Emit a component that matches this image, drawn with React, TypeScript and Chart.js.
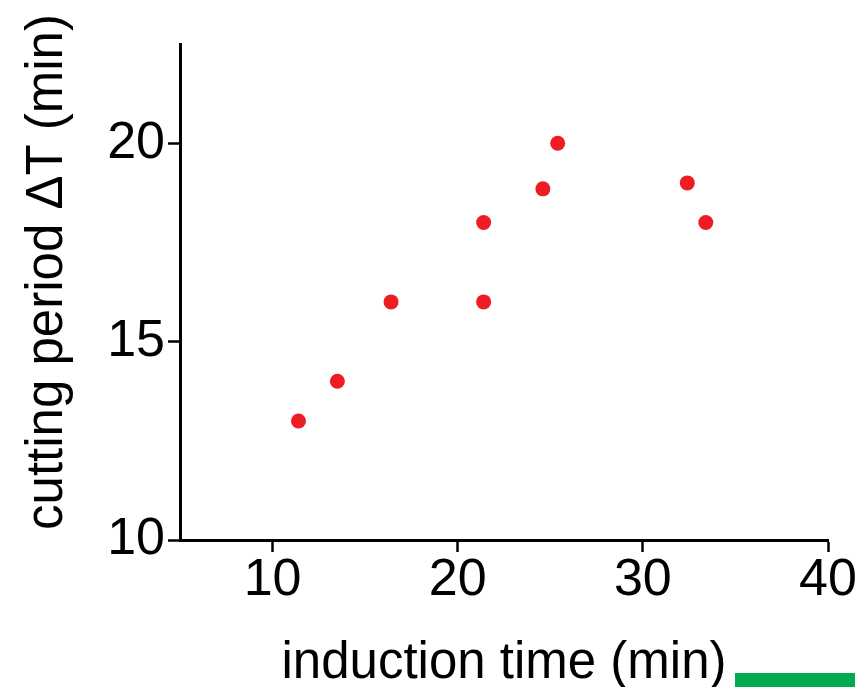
import React, { useEffect, useRef } from "react";
import { Chart, registerables } from "chart.js";

Chart.register(...registerables);

// ---- data ----
const inductionTime = [11.4, 13.5, 16.4, 21.4, 21.4, 24.6, 25.4, 32.4, 33.4];
const cuttingPeriod = [13.0, 14.0, 16.0, 16.0, 18.0, 18.85, 20.0, 19.0, 18.0];

const xMin = 5;
const xMax = 40;
const yMin = 10;
const yMax = 22.5;
const xMajorTicks = [10, 20, 30, 40];
const xMinorTicks = [5, 15, 25, 35];
const yMajorTicks = [10, 15, 20];
const yMinorTicks = [12.5, 17.5];

const xTitle = "induction time (min)";
const yTitle = "cutting period \u0394T (min)";

const FONT = '"Liberation Sans", Arial, Helvetica, sans-serif';
const RED = "#ee1d24";

const titlePlugin = {
  id: "axisTitles",
  afterDraw(chart: any) {
    const { ctx, chartArea } = chart;
    ctx.save();
    ctx.fillStyle = "#000";
    ctx.font = `51px ${FONT}`;
    ctx.textAlign = "center";
    ctx.textBaseline = "alphabetic";
    ctx.fillText(xTitle, (chartArea.left + chartArea.right) / 2, 678);
    ctx.translate(62, 272);
    ctx.rotate(-Math.PI / 2);
    ctx.fillText(yTitle, 0, 0);
    ctx.restore();
  },
};

const zeroPad = (s: any) => {
  s.paddingLeft = 0;
  s.paddingRight = 0;
  s.paddingTop = 0;
  s.paddingBottom = 0;
};

export default function App() {
  const ref = useRef<HTMLCanvasElement | null>(null);

  useEffect(() => {
    if (!ref.current) return;
    const tickFont = { family: FONT, size: 52, lineHeight: 1 };
    const chart = new Chart(ref.current, {
      type: "scatter",
      data: {
        datasets: [
          {
            data: inductionTime.map((x, i) => ({ x, y: cuttingPeriod[i] })),
            backgroundColor: RED,
            borderWidth: 0,
            pointRadius: 7.5,
            pointHoverRadius: 7.5,
            pointStyle: "circle",
          },
        ],
      },
      options: {
        responsive: false,
        animation: false,
        events: [],
        layout: { padding: { top: 44, right: 27, bottom: 0, left: 0 } },
        plugins: { legend: { display: false }, tooltip: { enabled: false }, title: { display: false } },
        scales: {
          x: {
            type: "linear",
            position: "bottom",
            min: xMin,
            max: xMax,
            afterBuildTicks: (s: any) => {
              s.ticks = xMajorTicks.map((v) => ({ value: v }));
            },
            afterFit: (s: any) => {
              s.height = 147;
              zeroPad(s);
            },
            border: { display: true, color: "#000", width: 3 },
            grid: { drawOnChartArea: false, drawTicks: true, tickLength: 12, color: "#000", tickColor: "#000", tickWidth: 2.5 },
            ticks: { color: "#000", font: tickFont, padding: 3, autoSkip: false, maxRotation: 0, minRotation: 0 },
          },
          x2: {
            type: "linear",
            position: "bottom",
            min: xMin,
            max: xMax,
            afterBuildTicks: (s: any) => {
              s.ticks = xMinorTicks.map((v) => ({ value: v }));
            },
            afterFit: (s: any) => {
              s.height = 0;
              zeroPad(s);
            },
            border: { display: false },
            grid: { drawOnChartArea: false, drawTicks: true, tickLength: 7, color: "#000", tickColor: "#000", tickWidth: 2.5 },
            ticks: { display: false },
          },
          y: {
            type: "linear",
            position: "left",
            min: yMin,
            max: yMax,
            afterBuildTicks: (s: any) => {
              s.ticks = yMajorTicks.map((v) => ({ value: v }));
            },
            afterFit: (s: any) => {
              s.width = 180;
              zeroPad(s);
            },
            border: { display: true, color: "#000", width: 3 },
            grid: { drawOnChartArea: false, drawTicks: true, tickLength: 12, color: "#000", tickColor: "#000", tickWidth: 2.5 },
            ticks: { color: "#000", font: tickFont, padding: 3, autoSkip: false },
          },
          y2: {
            type: "linear",
            position: "left",
            min: yMin,
            max: yMax,
            afterBuildTicks: (s: any) => {
              s.ticks = yMinorTicks.map((v) => ({ value: v }));
            },
            afterFit: (s: any) => {
              s.width = 0;
              zeroPad(s);
            },
            border: { display: false },
            grid: { drawOnChartArea: false, drawTicks: true, tickLength: 7, color: "#000", tickColor: "#000", tickWidth: 2.5 },
            ticks: { display: false },
          },
        },
      },
      plugins: [titlePlugin],
    } as any);
    return () => chart.destroy();
  }, []);

  return (
    <div style={{ position: "absolute", left: 0, top: 0, width: 855, height: 687, background: "#fff" }}>
      <canvas ref={ref} width={855} height={687} style={{ display: "block", width: 855, height: 687 }} />
      <div style={{ position: "absolute", left: 735, top: 673, width: 120, height: 14, background: "#00ab4e" }} />
    </div>
  );
}
